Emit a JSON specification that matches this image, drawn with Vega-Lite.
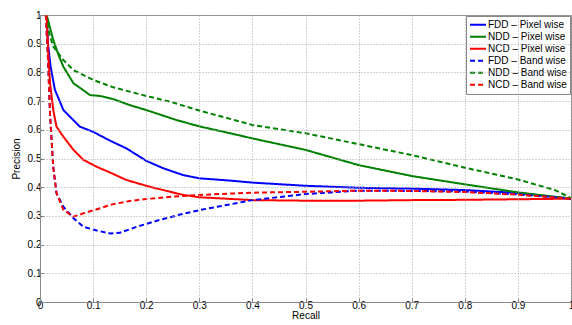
{
  "$schema": "https://vega.github.io/schema/vega-lite/v6.json",
  "width": 531,
  "height": 287,
  "autosize": "none",
  "padding": {"left": 40, "top": 15, "right": 1, "bottom": 23},
  "background": "white",
  "config": {
    "font": "Liberation Sans",
    "view": {"stroke": "#888888", "strokeWidth": 1},
    "axis": {
      "domainColor": "#888888",
      "tickColor": "#888888",
      "labelFont": "Liberation Sans",
      "labelFontSize": 10,
      "labelColor": "#000000",
      "titleFont": "Liberation Sans",
      "titleFontSize": 10,
      "titleFontWeight": "normal",
      "titleColor": "#000000"
    }
  },
  "data": {
    "values": [
      {"series": "FDD – Pixel wise", "recall": 0.0125, "precision": 1.0},
      {"series": "FDD – Pixel wise", "recall": 0.015, "precision": 0.9},
      {"series": "FDD – Pixel wise", "recall": 0.02, "precision": 0.82},
      {"series": "FDD – Pixel wise", "recall": 0.028, "precision": 0.74},
      {"series": "FDD – Pixel wise", "recall": 0.044, "precision": 0.669},
      {"series": "FDD – Pixel wise", "recall": 0.053, "precision": 0.652},
      {"series": "FDD – Pixel wise", "recall": 0.075, "precision": 0.611},
      {"series": "FDD – Pixel wise", "recall": 0.1, "precision": 0.593},
      {"series": "FDD – Pixel wise", "recall": 0.132, "precision": 0.562},
      {"series": "FDD – Pixel wise", "recall": 0.163, "precision": 0.535},
      {"series": "FDD – Pixel wise", "recall": 0.2, "precision": 0.492},
      {"series": "FDD – Pixel wise", "recall": 0.232, "precision": 0.466},
      {"series": "FDD – Pixel wise", "recall": 0.27, "precision": 0.442},
      {"series": "FDD – Pixel wise", "recall": 0.3, "precision": 0.431},
      {"series": "FDD – Pixel wise", "recall": 0.358, "precision": 0.423},
      {"series": "FDD – Pixel wise", "recall": 0.4, "precision": 0.416},
      {"series": "FDD – Pixel wise", "recall": 0.5, "precision": 0.405},
      {"series": "FDD – Pixel wise", "recall": 0.6, "precision": 0.398},
      {"series": "FDD – Pixel wise", "recall": 0.7, "precision": 0.395},
      {"series": "FDD – Pixel wise", "recall": 0.8, "precision": 0.39},
      {"series": "FDD – Pixel wise", "recall": 0.9, "precision": 0.38},
      {"series": "FDD – Pixel wise", "recall": 1.0, "precision": 0.36},

      {"series": "NDD – Pixel wise", "recall": 0.0125, "precision": 1.0},
      {"series": "NDD – Pixel wise", "recall": 0.025, "precision": 0.913},
      {"series": "NDD – Pixel wise", "recall": 0.035, "precision": 0.86},
      {"series": "NDD – Pixel wise", "recall": 0.044, "precision": 0.82},
      {"series": "NDD – Pixel wise", "recall": 0.063, "precision": 0.762},
      {"series": "NDD – Pixel wise", "recall": 0.08, "precision": 0.74},
      {"series": "NDD – Pixel wise", "recall": 0.094, "precision": 0.721},
      {"series": "NDD – Pixel wise", "recall": 0.113, "precision": 0.718},
      {"series": "NDD – Pixel wise", "recall": 0.138, "precision": 0.707},
      {"series": "NDD – Pixel wise", "recall": 0.169, "precision": 0.686},
      {"series": "NDD – Pixel wise", "recall": 0.2, "precision": 0.669},
      {"series": "NDD – Pixel wise", "recall": 0.257, "precision": 0.634},
      {"series": "NDD – Pixel wise", "recall": 0.3, "precision": 0.612},
      {"series": "NDD – Pixel wise", "recall": 0.358, "precision": 0.588},
      {"series": "NDD – Pixel wise", "recall": 0.4, "precision": 0.57},
      {"series": "NDD – Pixel wise", "recall": 0.5, "precision": 0.53},
      {"series": "NDD – Pixel wise", "recall": 0.6, "precision": 0.477},
      {"series": "NDD – Pixel wise", "recall": 0.7, "precision": 0.439},
      {"series": "NDD – Pixel wise", "recall": 0.8, "precision": 0.41},
      {"series": "NDD – Pixel wise", "recall": 0.9, "precision": 0.382},
      {"series": "NDD – Pixel wise", "recall": 1.0, "precision": 0.36},

      {"series": "NCD – Pixel wise", "recall": 0.0125, "precision": 1.0},
      {"series": "NCD – Pixel wise", "recall": 0.016, "precision": 0.85},
      {"series": "NCD – Pixel wise", "recall": 0.019, "precision": 0.762},
      {"series": "NCD – Pixel wise", "recall": 0.025, "precision": 0.669},
      {"series": "NCD – Pixel wise", "recall": 0.031, "precision": 0.611},
      {"series": "NCD – Pixel wise", "recall": 0.044, "precision": 0.576},
      {"series": "NCD – Pixel wise", "recall": 0.063, "precision": 0.53},
      {"series": "NCD – Pixel wise", "recall": 0.082, "precision": 0.495},
      {"series": "NCD – Pixel wise", "recall": 0.107, "precision": 0.471},
      {"series": "NCD – Pixel wise", "recall": 0.132, "precision": 0.451},
      {"series": "NCD – Pixel wise", "recall": 0.163, "precision": 0.425},
      {"series": "NCD – Pixel wise", "recall": 0.2, "precision": 0.405},
      {"series": "NCD – Pixel wise", "recall": 0.232, "precision": 0.39},
      {"series": "NCD – Pixel wise", "recall": 0.27, "precision": 0.373},
      {"series": "NCD – Pixel wise", "recall": 0.3, "precision": 0.365},
      {"series": "NCD – Pixel wise", "recall": 0.4, "precision": 0.355},
      {"series": "NCD – Pixel wise", "recall": 0.5, "precision": 0.353},
      {"series": "NCD – Pixel wise", "recall": 0.6, "precision": 0.353},
      {"series": "NCD – Pixel wise", "recall": 0.7, "precision": 0.355},
      {"series": "NCD – Pixel wise", "recall": 0.8, "precision": 0.356},
      {"series": "NCD – Pixel wise", "recall": 0.9, "precision": 0.358},
      {"series": "NCD – Pixel wise", "recall": 1.0, "precision": 0.36},

      {"series": "FDD – Band wise", "recall": 0.011, "precision": 1.0},
      {"series": "FDD – Band wise", "recall": 0.015, "precision": 0.85},
      {"series": "FDD – Band wise", "recall": 0.019, "precision": 0.65},
      {"series": "FDD – Band wise", "recall": 0.025, "precision": 0.471},
      {"series": "FDD – Band wise", "recall": 0.031, "precision": 0.379},
      {"series": "FDD – Band wise", "recall": 0.044, "precision": 0.332},
      {"series": "FDD – Band wise", "recall": 0.063, "precision": 0.292},
      {"series": "FDD – Band wise", "recall": 0.082, "precision": 0.262},
      {"series": "FDD – Band wise", "recall": 0.107, "precision": 0.249},
      {"series": "FDD – Band wise", "recall": 0.132, "precision": 0.239},
      {"series": "FDD – Band wise", "recall": 0.15, "precision": 0.241},
      {"series": "FDD – Band wise", "recall": 0.182, "precision": 0.262},
      {"series": "FDD – Band wise", "recall": 0.22, "precision": 0.283},
      {"series": "FDD – Band wise", "recall": 0.264, "precision": 0.305},
      {"series": "FDD – Band wise", "recall": 0.3, "precision": 0.32},
      {"series": "FDD – Band wise", "recall": 0.4, "precision": 0.355},
      {"series": "FDD – Band wise", "recall": 0.5, "precision": 0.376},
      {"series": "FDD – Band wise", "recall": 0.6, "precision": 0.388},
      {"series": "FDD – Band wise", "recall": 0.7, "precision": 0.387},
      {"series": "FDD – Band wise", "recall": 0.8, "precision": 0.385},
      {"series": "FDD – Band wise", "recall": 0.9, "precision": 0.375},
      {"series": "FDD – Band wise", "recall": 1.0, "precision": 0.36},

      {"series": "NDD – Band wise", "recall": 0.011, "precision": 1.0},
      {"series": "NDD – Band wise", "recall": 0.018, "precision": 0.93},
      {"series": "NDD – Band wise", "recall": 0.025, "precision": 0.89},
      {"series": "NDD – Band wise", "recall": 0.044, "precision": 0.843},
      {"series": "NDD – Band wise", "recall": 0.063, "precision": 0.808},
      {"series": "NDD – Band wise", "recall": 0.1, "precision": 0.774},
      {"series": "NDD – Band wise", "recall": 0.138, "precision": 0.748},
      {"series": "NDD – Band wise", "recall": 0.2, "precision": 0.718},
      {"series": "NDD – Band wise", "recall": 0.245, "precision": 0.698},
      {"series": "NDD – Band wise", "recall": 0.3, "precision": 0.667},
      {"series": "NDD – Band wise", "recall": 0.4, "precision": 0.617},
      {"series": "NDD – Band wise", "recall": 0.5, "precision": 0.588},
      {"series": "NDD – Band wise", "recall": 0.6, "precision": 0.55},
      {"series": "NDD – Band wise", "recall": 0.7, "precision": 0.512},
      {"series": "NDD – Band wise", "recall": 0.8, "precision": 0.468},
      {"series": "NDD – Band wise", "recall": 0.9, "precision": 0.427},
      {"series": "NDD – Band wise", "recall": 0.97, "precision": 0.39},
      {"series": "NDD – Band wise", "recall": 1.0, "precision": 0.362},

      {"series": "NCD – Band wise", "recall": 0.011, "precision": 1.0},
      {"series": "NCD – Band wise", "recall": 0.015, "precision": 0.85},
      {"series": "NCD – Band wise", "recall": 0.019, "precision": 0.65},
      {"series": "NCD – Band wise", "recall": 0.025, "precision": 0.47},
      {"series": "NCD – Band wise", "recall": 0.031, "precision": 0.38},
      {"series": "NCD – Band wise", "recall": 0.044, "precision": 0.321},
      {"series": "NCD – Band wise", "recall": 0.063, "precision": 0.297},
      {"series": "NCD – Band wise", "recall": 0.082, "precision": 0.309},
      {"series": "NCD – Band wise", "recall": 0.107, "precision": 0.323},
      {"series": "NCD – Band wise", "recall": 0.138, "precision": 0.341},
      {"series": "NCD – Band wise", "recall": 0.169, "precision": 0.352},
      {"series": "NCD – Band wise", "recall": 0.2, "precision": 0.359},
      {"series": "NCD – Band wise", "recall": 0.264, "precision": 0.369},
      {"series": "NCD – Band wise", "recall": 0.3, "precision": 0.373},
      {"series": "NCD – Band wise", "recall": 0.4, "precision": 0.381},
      {"series": "NCD – Band wise", "recall": 0.5, "precision": 0.384},
      {"series": "NCD – Band wise", "recall": 0.6, "precision": 0.388},
      {"series": "NCD – Band wise", "recall": 0.7, "precision": 0.387},
      {"series": "NCD – Band wise", "recall": 0.8, "precision": 0.383},
      {"series": "NCD – Band wise", "recall": 0.9, "precision": 0.374},
      {"series": "NCD – Band wise", "recall": 1.0, "precision": 0.36}
    ]
  },
  "mark": {"type": "line", "strokeWidth": 2, "clip": true},
  "encoding": {
    "x": {
      "field": "recall",
      "type": "quantitative",
      "title": "Recall",
      "scale": {"domain": [0, 1], "nice": false},
      "axis": {"values": [0, 0.1, 0.2, 0.3, 0.4, 0.5, 0.6, 0.7, 0.8, 0.9, 1], "format": "~g", "labelPadding": 2, "titlePadding": 0, "labelFlush": false, "grid": true, "gridColor": "#a8a8a8", "gridDash": [1, 2], "gridWidth": 1, "gridOpacity": 1, "tickSize": -4, "zindex": 1}
    },
    "y": {
      "field": "precision",
      "type": "quantitative",
      "title": "Precision",
      "scale": {"domain": [0, 1], "nice": false},
      "axis": {"values": [0, 0.1, 0.2, 0.3, 0.4, 0.5, 0.6, 0.7, 0.8, 0.9, 1], "format": "~g", "labelPadding": 3, "titlePadding": 6, "labelFlush": false, "grid": true, "gridColor": "#a8a8a8", "gridDash": [1, 2], "gridWidth": 1, "gridOpacity": 1, "tickSize": -4, "zindex": 1}
    },
    "color": {
      "field": "series",
      "type": "nominal",
      "title": null,
      "scale": {
        "domain": ["FDD – Pixel wise", "NDD – Pixel wise", "NCD – Pixel wise", "FDD – Band wise", "NDD – Band wise", "NCD – Band wise"],
        "range": ["#0000ff", "#008000", "#ff0000", "#0000ff", "#008000", "#ff0000"]
      },
      "legend": {
        "orient": "none",
        "legendX": 426,
        "legendY": 1,
        "symbolType": "stroke",
        "symbolSize": 256,
        "symbolStrokeWidth": 2,
        "labelFontSize": 10,
        "labelFont": "Liberation Sans",
        "labelColor": "#000000",
        "clipHeight": 11.5,
        "rowPadding": 0,
        "padding": 3,
        "strokeColor": "#888888",
        "fillColor": "#ffffff",
        "labelOffset": 1
      }
    },
    "strokeDash": {
      "field": "series",
      "type": "nominal",
      "title": null,
      "scale": {
        "domain": ["FDD – Pixel wise", "NDD – Pixel wise", "NCD – Pixel wise", "FDD – Band wise", "NDD – Band wise", "NCD – Band wise"],
        "range": [[1, 0], [1, 0], [1, 0], [5, 3], [5, 3], [5, 3]]
      }
    }
  }
}
